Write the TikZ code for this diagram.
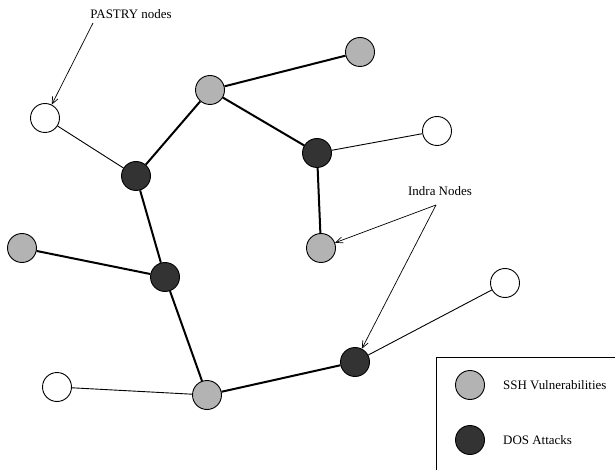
\documentclass[tikz,border=0pt]{standalone}
\usepackage{fontspec}
\setmainfont{Liberation Serif}
\usetikzlibrary{arrows.meta}
\definecolor{ssh}{HTML}{B3B3B3}
\definecolor{dos}{HTML}{333333}
\tikzset{
  pnode/.style={circle,draw=black,line width=0.9bp,minimum size=29bp,inner sep=0pt,fill=white},
  gnode/.style={pnode,fill=ssh},
  dnode/.style={pnode,fill=dos},
  thickedge/.style={line width=2bp},
  thinedge/.style={line width=0.9bp},
  lbl/.style={font=\fontsize{13}{15}\selectfont,inner sep=0pt},
  pointer/.style={line width=0.7bp,-{Straight Barb[length=7bp,width=6bp]}}
}
\begin{document}
\begin{tikzpicture}[x=1bp,y=-1bp]
\clip (0,0) rectangle (615,470);
\fill[white] (0,0) rectangle (615,470);
% edges first (nodes drawn on top)
\node[pnode] (p1) at (45,118) {};
\node[gnode] (g1) at (210,90) {};
\node[dnode] (d1) at (136,176) {};
\node[gnode] (g2) at (360,52) {};
\node[pnode] (p2) at (437,131) {};
\node[dnode] (d2) at (317,153) {};
\node[gnode] (g3) at (321,248) {};
\node[gnode] (g4) at (22,248) {};
\node[dnode] (d3) at (165,277) {};
\node[pnode] (p3) at (57,387) {};
\node[gnode] (g5) at (207,395) {};
\node[dnode] (d4) at (355,362) {};
\node[pnode] (p4) at (505,283) {};
\draw[thickedge] (g1) -- (g2);
\draw[thickedge] (g1) -- (d2);
\draw[thickedge] (g1) -- (d1);
\draw[thickedge] (d2) -- (g3);
\draw[thickedge] (d1) -- (d3);
\draw[thickedge] (g4) -- (d3);
\draw[thickedge] (d3) -- (g5);
\draw[thickedge] (g5) -- (d4);
\draw[thinedge] (p1) -- (d1);
\draw[thinedge] (d2) -- (p2);
\draw[thinedge] (p3) -- (g5);
\draw[thinedge] (d4) -- (p4);
% labels
\node[lbl] (pastry) at (131,14) {PASTRY nodes};
\coordinate (pastrytail) at (93,23);
\draw[pointer] (pastrytail) -- (p1);
\node[lbl] (indra) at (440,191) {Indra Nodes};
\coordinate (indratail) at (436,205);
\draw[pointer] (indratail) -- (g3);
\draw[pointer] (indratail) -- (d4);
% legend
\draw[line width=0.9bp] (436,472) -- (436,357) -- (620,357);
\node[gnode] (lg) at (470,385) {};
\node[dnode] (ld) at (470,440) {};
\node[lbl,anchor=west] (lgt) at (503,385) {SSH Vulnerabilities};
\node[lbl,anchor=west] (ldt) at (503,440) {DOS Attacks};
\end{tikzpicture}
\end{document}
